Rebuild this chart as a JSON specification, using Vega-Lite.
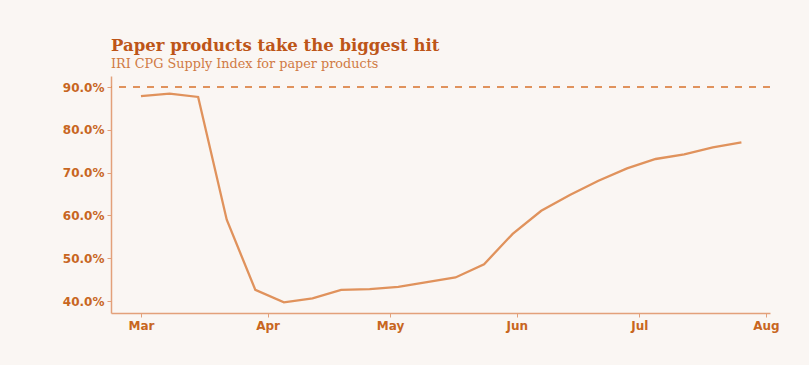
{
  "$schema": "https://vega.github.io/schema/vega-lite/v6.json",
  "autosize": {"type": "none"},
  "width": 659,
  "height": 237,
  "padding": {"left": 111, "top": 76, "right": 39, "bottom": 52},
  "background": "#FAF6F3",
  "title": {
    "text": "Paper products take the biggest hit",
    "subtitle": "IRI CPG Supply Index for paper products",
    "anchor": "start",
    "frame": "group",
    "font": "DejaVu Serif",
    "fontSize": 16.5,
    "fontWeight": "bold",
    "color": "#BD5518",
    "subtitleFont": "DejaVu Serif",
    "subtitleFontSize": 12.8,
    "subtitleColor": "#D07A44",
    "subtitlePadding": 4,
    "offset": 5
  },
  "data": {
    "values": [
      {"date": "2020-03-01T00:00", "index": 0.879},
      {"date": "2020-03-08T00:00", "index": 0.885},
      {"date": "2020-03-15T00:00", "index": 0.877},
      {"date": "2020-03-22T00:00", "index": 0.590},
      {"date": "2020-03-29T00:00", "index": 0.426},
      {"date": "2020-04-05T00:00", "index": 0.397},
      {"date": "2020-04-12T00:00", "index": 0.406},
      {"date": "2020-04-19T00:00", "index": 0.426},
      {"date": "2020-04-26T00:00", "index": 0.428},
      {"date": "2020-05-03T00:00", "index": 0.433},
      {"date": "2020-05-10T00:00", "index": 0.444},
      {"date": "2020-05-17T00:00", "index": 0.455},
      {"date": "2020-05-24T00:00", "index": 0.486},
      {"date": "2020-05-31T00:00", "index": 0.557},
      {"date": "2020-06-07T00:00", "index": 0.611},
      {"date": "2020-06-14T00:00", "index": 0.648},
      {"date": "2020-06-21T00:00", "index": 0.681},
      {"date": "2020-06-28T00:00", "index": 0.710},
      {"date": "2020-07-05T00:00", "index": 0.732},
      {"date": "2020-07-12T00:00", "index": 0.743},
      {"date": "2020-07-19T00:00", "index": 0.759},
      {"date": "2020-07-26T00:00", "index": 0.771}
    ]
  },
  "layer": [
    {
      "mark": {"type": "rule", "color": "#E0925C", "strokeWidth": 1.5, "strokeDash": [7, 7]},
      "encoding": {"y": {"datum": 0.9, "type": "quantitative"}}
    },
    {
      "mark": {"type": "line", "color": "#E0925C", "strokeWidth": 2.3},
      "encoding": {
        "x": {
          "field": "date",
          "type": "temporal",
          "title": null,
          "scale": {
            "domain": [
              {"year": 2020, "month": 2, "date": 22, "hours": 16},
              {"year": 2020, "month": 8, "date": 2}
            ]
          },
          "axis": {
            "format": "%b",
            "tickCount": {"interval": "month", "step": 1},
            "grid": false,
            "labelFlush": false,
            "labelOverlap": false
          }
        },
        "y": {
          "field": "index",
          "type": "quantitative",
          "title": null,
          "scale": {"domain": [0.372, 0.926], "nice": false, "zero": false},
          "axis": {
            "values": [0.4, 0.5, 0.6, 0.7, 0.8, 0.9],
            "format": ".1%",
            "grid": false
          }
        }
      }
    }
  ],
  "config": {
    "view": {"stroke": null},
    "axis": {
      "domainColor": "#E3A07A",
      "domainWidth": 1.5,
      "tickColor": "#E3A07A",
      "tickWidth": 1,
      "tickSize": 4,
      "labelFont": "DejaVu Sans",
      "labelFontWeight": "bold",
      "labelFontSize": 12,
      "labelColor": "#C8661F",
      "labelPadding": 3
    }
  }
}
